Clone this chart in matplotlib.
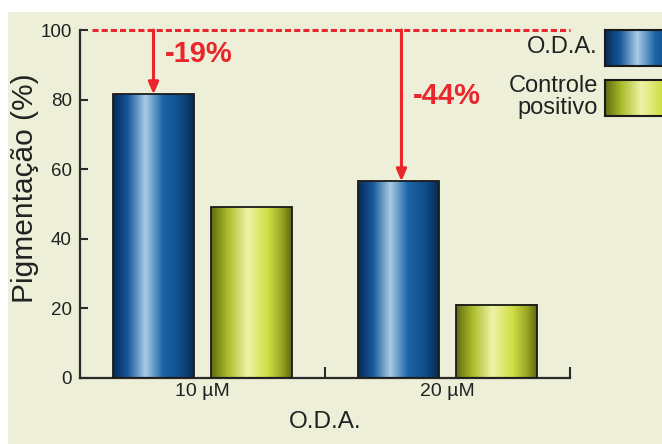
import numpy as np
import matplotlib
matplotlib.use('Agg')
import matplotlib.pyplot as plt
from matplotlib.colors import LinearSegmentedColormap
from matplotlib.patches import Rectangle
from matplotlib import font_manager

plt.rcParams['font.family'] = ['Liberation Sans', 'DejaVu Sans']
installed = {f.name for f in font_manager.fontManager.ttflist}
narrow = 'Liberation Sans Narrow' if 'Liberation Sans Narrow' in installed else 'Liberation Sans'
pct_size = 24 if narrow == 'Liberation Sans Narrow' else 21

# data
groups = ['10 µM', '20 µM']
oda = [81.5, 56.5]
controle = [49, 21]
drops = ['-19%', '-44%']
drop_label_y = [93, 81]
series_names = ['O.D.A.', 'Controle\npositivo']

bg = '#eeefd9'
red = '#e8262b'
ink = '#222222'

blue_cmap = LinearSegmentedColormap.from_list('blue', [
    (0.0, '#0b2a55'), (0.18, '#14569a'), (0.40, '#a9cbe5'),
    (0.62, '#1a64a8'), (0.85, '#0f4a86'), (1.0, '#0a2a50')])
yellow_cmap = LinearSegmentedColormap.from_list('yellow', [
    (0.0, '#5f6a10'), (0.20, '#a9bb2a'), (0.45, '#eef3a6'),
    (0.70, '#cfdf45'), (0.88, '#97a523'), (1.0, '#5e6910')])

fig = plt.figure(figsize=(6.62, 4.44), dpi=100)
fig.patch.set_facecolor('white')
fig.patches.append(Rectangle((8 / 662, 0), 1, 1 - 12 / 444, transform=fig.transFigure,
                             facecolor=bg, edgecolor='none', zorder=-10))

ax = fig.add_axes([80 / 662, 1 - 378 / 444, 490 / 662, 348 / 444])
ax.set_facecolor('none')

x = np.arange(len(groups)) + 0.5
w = 0.33
off = 0.2
grad = np.linspace(0, 1, 256).reshape(1, -1)


def gradient_bars(xs, vals, cmap):
    bars = ax.bar(xs, vals, w, facecolor='none', edgecolor='#1a1a1a', linewidth=1.3, zorder=3)
    for b in bars:
        x0, y0 = b.get_x(), b.get_y()
        ax.imshow(grad, cmap=cmap, aspect='auto', zorder=2,
                  extent=[x0, x0 + b.get_width(), y0, y0 + b.get_height()])
    return bars


gradient_bars(x - off, oda, blue_cmap)
gradient_bars(x + off, controle, yellow_cmap)

ax.set_xlim(0, 2)
ax.set_ylim(0, 100)

# reference line and arrows
ax.plot([0.05, 2], [100, 100], color=red, lw=2.2, ls=(0, (2.0, 1.0)), zorder=4, clip_on=False)
arrow_x = [x[0] - off, x[1] - off + 0.012]
for xi, v in zip(arrow_x, oda):
    ax.annotate('', xy=(xi, v), xytext=(xi, 100),
                arrowprops=dict(arrowstyle='-|>,head_width=0.3,head_length=0.7',
                                color=red, lw=2.2, shrinkA=0, shrinkB=0), zorder=5)
for xi, yy, lab in zip(arrow_x, drop_label_y, drops):
    ax.text(xi + 0.045, yy, lab, color=red, fontsize=pct_size, fontweight='bold',
            family=narrow, ha='left', va='center')

# axes styling
for s in ['top', 'right']:
    ax.spines[s].set_visible(False)
for s in ['left', 'bottom']:
    ax.spines[s].set_color('#2a2a2a')
    ax.spines[s].set_linewidth(1.6)
ax.set_yticks([0, 20, 40, 60, 80, 100])
ax.tick_params(axis='y', direction='in', length=6, width=1.5, color='#2a2a2a',
               labelsize=13.5, labelcolor=ink, pad=6)
ax.set_xticks([1, 2])
ax.set_xticklabels([])
ax.tick_params(axis='x', direction='in', length=8, width=1.5, color='#2a2a2a')
for xi, g in zip(x, groups):
    ax.text(xi, -1.3, g, ha='center', va='top', fontsize=14, color=ink)
ax.text(1.0, -9.5, 'O.D.A.', ha='center', va='top', fontsize=17.5, color=ink)
fig.text(25 / 662, 1 - 188 / 444, 'Pigmentação (%)', rotation=90, ha='center', va='center',
         fontsize=21.5, color=ink)

# legend (boxes partly cut at right edge)
box_top = [30, 80]
box_h = 36
text_y = [47, 97]
for top, ty, name, cmap in zip(box_top, text_y, series_names, [blue_cmap, yellow_cmap]):
    lax = fig.add_axes([605 / 662, 1 - (top + box_h) / 444, 80 / 662, box_h / 444])
    lax.imshow(grad, cmap=cmap, aspect='auto', extent=[0, 1, 0, 1])
    for s in lax.spines.values():
        s.set_linewidth(1.5)
        s.set_color('#1a1a1a')
    lax.set_xticks([])
    lax.set_yticks([])
    fig.text(598 / 662, 1 - ty / 444, name, ha='right', va='center', fontsize=17,
             color=ink, linespacing=0.95)

fig.savefig('out.png', dpi=100, facecolor=fig.get_facecolor())
